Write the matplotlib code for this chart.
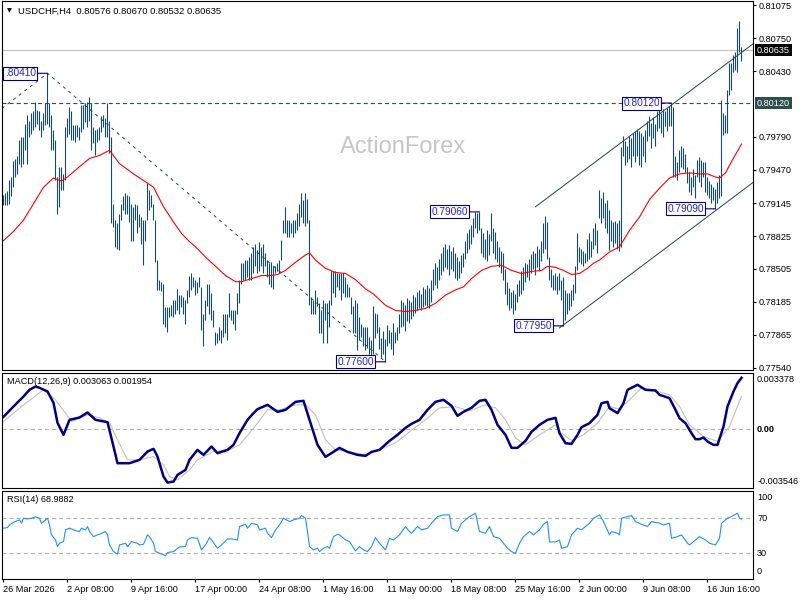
import matplotlib
matplotlib.use("Agg")
import matplotlib.pyplot as plt

plt.rcParams['font.family'] = ['Liberation Sans', 'DejaVu Sans']
plt.rcParams['lines.scale_dashes'] = False

# ---------------- data ----------------
symbol_title = "USDCHF,H4  0.80576 0.80670 0.80532 0.80635"
macd_title = "MACD(12,26,9) 0.003063 0.001954"
rsi_title = "RSI(14) 68.9882"
watermark = "ActionForex"

bar_high = [
    .7922, .7924, .7926, .7937, .7940, .7956, .7958, .7960, .7976, .7979,
    .7979, .7992, .8000, .7995, .8002, .8004, .8013, .8005, .8004, .7995,
    .8002, .8012, .8041, .8012, .8000, .7986, .7976, .7940, .7950, .7950,
    .7943, .7989, .7997, .8008, .8004, .7991, .7991, .7991, .7989, .8010,
    .8010, .8012, .8013, .8018, .8012, .7989, .7986, .7987, .7989, .7999,
    .8000, .7997, .8012, .7995, .7979, .7914, .7898, .7895, .7904, .7914,
    .7921, .7924, .7922, .7921, .7914, .7911, .7914, .7913, .7904, .7901,
    .7898, .7898, .7934, .7927, .7922, .7914, .7898, .7859, .7840, .7838,
    .7836, .7813, .7813, .7813, .7815, .7820, .7820, .7831, .7825, .7825,
    .7823, .7820, .7830, .7844,
    .7846, .7843, .7840, .7838, .7843, .7833, .7807, .7820, .7836, .7836,
    .7827, .7810, .7789, .7788, .7794, .7791, .7807, .7807, .7807, .7827,
    .7810, .7810, .7810, .7827, .7840, .7856, .7856, .7859, .7859, .7862,
    .7866, .7872, .7875, .7869, .7877, .7872, .7875, .7866, .7859, .7856,
    .7857, .7853, .7853, .7856, .7859, .7879, .7898, .7911, .7898, .7898,
    .7895, .7898, .7898, .7905, .7914, .7924, .7918, .7924, .7919, .7898,
    .7823, .7820, .7830, .7823, .7817, .7810, .7820, .7817, .7817, .7820,
    .7848, .7848, .7848, .7846, .7846, .7846, .7846, .7843, .7836, .7833,
    .7823, .7814, .7820, .7817, .7804, .7797, .7794, .7794, .7794, .7784,
    .7781, .7814,
    .7808, .7807, .7794, .7783, .7790, .7782, .7796, .7791, .7789, .7798,
    .7789, .7794, .7807, .7820, .7818, .7815, .7822, .7820, .7818, .7825,
    .7823, .7828, .7830, .7826, .7833, .7831, .7835, .7832, .7840, .7850,
    .7856, .7852, .7860, .7866, .7872, .7875, .7870, .7874, .7868, .7872,
    .7866, .7862, .7858, .7864, .7866, .7878, .7885, .7889, .7893, .7900,
    .7906, .7905, .7906, .7890, .7885, .7880, .7888, .7884, .7905, .7890,
    .7886, .7878, .7872, .7868, .7866, .7850, .7838, .7832, .7828, .7830,
    .7826, .7836, .7840, .7848, .7852, .7856, .7855, .7860, .7865, .7868,
    .7866, .7873, .7870, .7878, .7895, .7902, .7896, .7862, .7850, .7845,
    .7846, .7844, .7846, .7840, .7843,
    .7830, .7827, .7827, .7830, .7836, .7853, .7885, .7872, .7870, .7868,
    .7866, .7880, .7885, .7878, .7890, .7895, .7888, .7927, .7920, .7925,
    .7915, .7918, .7908, .7898, .7896, .7897, .7895, .7898, .7969, .7980,
    .7975, .7970, .7980, .7978, .7983, .7985, .7987, .7985, .7983, .7980,
    .7986, .7995, .7999, .7993, .7998, .7992, .8004, .8008, .8002, .8006,
    .8004, .8007, .8009, .8012, .8008, .7960, .7955, .7966, .7970, .7968,
    .7962, .7950, .7945, .7940, .7948, .7942, .7957, .7959, .7957, .7955,
    .7955, .7940, .7936, .7933, .7930, .7928, .7935, .7942, .8015, .8002,
    .8000, .8025, .8051, .8051, .8059, .8062, .8085, .8092, .8067,
]
bar_low = [
    .7913, .7913, .7913, .7914, .7921, .7930, .7940, .7943, .7953, .7950,
    .7953, .7966, .7953, .7979, .7982, .7986, .7989, .7992, .7986, .7979,
    .7986, .7991, .7992, .7989, .7966, .7966, .7937, .7904, .7911, .7927,
    .7927, .7937, .7979, .7982, .7976, .7976, .7974, .7979, .7976, .7984,
    .7987, .7994, .7989, .7995, .7966, .7973, .7961, .7974, .7976, .7984,
    .7989, .7979, .7979, .7963, .7895, .7891, .7872, .7870, .7869, .7898,
    .7908, .7904, .7904, .7896, .7878, .7878, .7898, .7885, .7891, .7875,
    .7854, .7878, .7898, .7908, .7911, .7898, .7857, .7830, .7830, .7829,
    .7797, .7794, .7789, .7804, .7805, .7804, .7807, .7810, .7807, .7813,
    .7807, .7797, .7817, .7823,
    .7830, .7833, .7825, .7827, .7833, .7791, .7775, .7801, .7814, .7807,
    .7801, .7794, .7776, .7778, .7781, .7778, .7784, .7788, .7781, .7804,
    .7801, .7797, .7791, .7807, .7817, .7836, .7840, .7840, .7843, .7840,
    .7840, .7846, .7853, .7846, .7848, .7853, .7846, .7853, .7843, .7836,
    .7833, .7831, .7846, .7848, .7846, .7859, .7885, .7885, .7882, .7882,
    .7885, .7882, .7885, .7888, .7892, .7901, .7895, .7892, .7895, .7815,
    .7807, .7807, .7807, .7814, .7788, .7788, .7778, .7801, .7778, .7794,
    .7815, .7827, .7823, .7833, .7830, .7820, .7827, .7823, .7823, .7823,
    .7807, .7788, .7788, .7771, .7781, .7784, .7775, .7771, .7773, .7768,
    .7765, .7768,
    .7783, .7788, .7772, .7764, .7768, .7760, .7775, .7778, .7772, .7767,
    .7778, .7781, .7788, .7794, .7795, .7790, .7800, .7798, .7802, .7805,
    .7808, .7810, .7812, .7810, .7813, .7815, .7814, .7812, .7818, .7830,
    .7835, .7832, .7840, .7845, .7848, .7852, .7850, .7845, .7850, .7848,
    .7842, .7840, .7842, .7846, .7852, .7860, .7866, .7870, .7875, .7882,
    .7890, .7885, .7888, .7866, .7862, .7860, .7858, .7864, .7878, .7866,
    .7860, .7857, .7852, .7846, .7840, .7826, .7815, .7810, .7812, .7807,
    .7810, .7818, .7824, .7826, .7830, .7838, .7843, .7840, .7846, .7850,
    .7845, .7852, .7848, .7858, .7866, .7870, .7860, .7840, .7833, .7830,
    .7830, .7826, .7830, .7820, .7795,
    .7801, .7807, .7810, .7814, .7820, .7827, .7849, .7857, .7855, .7853,
    .7856, .7858, .7860, .7862, .7870, .7874, .7866, .7900, .7895, .7900,
    .7890, .7885, .7869, .7878, .7872, .7876, .7870, .7868, .7872, .7960,
    .7952, .7955, .7958, .7950, .7960, .7955, .7960, .7952, .7950, .7960,
    .7955, .7975, .7980, .7968, .7978, .7970, .7985, .7988, .7983, .7979,
    .7990, .7985, .7990, .7990, .7940, .7940, .7937, .7945, .7950, .7948,
    .7945, .7934, .7925, .7922, .7930, .7920, .7940, .7935, .7930, .7940,
    .7925, .7922, .7920, .7915, .7918, .7909, .7915, .7920, .7921, .7981,
    .7983, .7983, .8020, .8025, .8042, .8044, .8042, .8062, .8053,
]
assert len(bar_high) == len(bar_low) == 370

ma_bar = [0, 5, 10, 15, 20, 25, 29, 32, 38, 43, 48, 53, 58, 65, 72, 75, 80, 85, 89, 93,
          96, 101, 106, 111, 116, 119, 124, 129, 134, 137, 141, 146, 151, 153, 156, 161,
          166, 171, 176, 181, 185, 191, 196, 201, 206, 211, 216, 221, 226, 230, 234, 239,
          244, 249, 254, 259, 264, 269, 272, 276, 280, 284, 288, 292, 295, 298, 303, 308,
          313, 318, 323, 328, 333, 338, 343, 348, 352, 356, 358, 361, 364, 369]
ma_val = [0.7878, 0.7887, 0.7898, 0.7914, 0.7930, 0.7939, 0.7936, 0.7940, 0.7950, 0.7958,
          0.7961, 0.7966, 0.7953, 0.7943, 0.7934, 0.7930, 0.7911, 0.7896, 0.7885, 0.7877,
          0.7872, 0.7862, 0.7853, 0.7844, 0.7838, 0.7838, 0.7841, 0.7844, 0.7844, 0.7845,
          0.7849, 0.7857, 0.7864, 0.7866, 0.7859, 0.7851, 0.7847, 0.7846, 0.7840, 0.7831,
          0.7826, 0.7815, 0.7810, 0.7809, 0.7810, 0.7812, 0.7817, 0.7825, 0.7830, 0.7833,
          0.7841, 0.7849, 0.7853, 0.7854, 0.7849, 0.7846, 0.7848, 0.7849, 0.7853, 0.7852,
          0.7849, 0.7845, 0.7846, 0.7851, 0.7856, 0.7859, 0.7867, 0.7872, 0.7888, 0.7901,
          0.7918, 0.7929, 0.7939, 0.7943, 0.7944, 0.7943, 0.7943, 0.7940, 0.7939, 0.7944,
          0.7955, 0.7972]

macd_bar = [0, 5, 10, 13, 16, 18, 22, 25, 27, 30, 33, 38, 42, 46, 52, 55, 57, 63, 68, 72,
            75, 77, 80, 82, 85, 87, 91, 93, 97, 100, 104, 107, 112, 115, 118, 122, 125, 127,
            132, 137, 141, 146, 150, 153, 157, 161, 165, 168, 172, 177, 181, 184, 188, 193,
            197, 201, 204, 208, 212, 216, 220, 224, 227, 230, 234, 238, 241, 244, 247, 251,
            254, 257, 261, 264, 268, 272, 276, 278, 281, 284, 287, 289, 293, 297, 299, 302,
            303, 307, 310, 312, 317, 321, 326, 328, 333, 336, 338, 341, 344, 346, 348, 350,
            352, 355, 357, 360, 362, 365, 367, 369]
macd_val = [0.00072, 0.00134, 0.00194, 0.00234, 0.00254, 0.00246, 0.00224, 0.00156, 0.00036, -0.00036,
            0.00054, 0.00068, 0.00098, 0.00054, 0.00040, -0.00106, -0.00206, -0.00206, -0.00186, -0.00136,
            -0.00120, -0.00166, -0.00286, -0.00322, -0.00316, -0.00276, -0.00246, -0.00186, -0.00126, -0.00156,
            -0.00106, -0.00146, -0.00126, -0.00096, -0.00026, 0.00054, 0.00094, 0.00118, 0.00144, 0.00102,
            0.00114, 0.00162, 0.00168, 0.00054, -0.00096, -0.00168, -0.00138, -0.00114, -0.00138, -0.00156,
            -0.00162, -0.00138, -0.00126, -0.00072, -0.00036, 0.00006, 0.00030, 0.00054, 0.00114, 0.00162,
            0.00174, 0.00138, 0.00078, 0.00102, 0.00126, 0.00168, 0.00174, 0.00114, 0.00024, -0.00036,
            -0.00114, -0.00114, -0.00072, -0.00018, 0.00024, 0.00054, 0.00066, -0.00026, -0.00086, -0.00090,
            -0.00036, 0.00010, 0.00034, 0.00084, 0.00154, 0.00162, 0.00124, 0.00094, 0.00154, 0.00234,
            0.00264, 0.00234, 0.00230, 0.00204, 0.00184, 0.00114, 0.00064, 0.00034, -0.00026, -0.00062,
            -0.00062, -0.00052, -0.00076, -0.00096, -0.00096, 0.00014, 0.00134, 0.00224, 0.00274, 0.00306]

sig_bar = [0, 10, 20, 26, 34, 42, 48, 53, 57, 62, 68, 75, 80, 83, 87, 93, 97, 105, 113, 118,
           123, 127, 132, 138, 146, 151, 156, 161, 166, 173, 181, 188, 196, 203, 211, 218, 226,
           233, 241, 246, 251, 256, 261, 268, 276, 278, 284, 290, 297, 303, 308, 313, 319, 327,
           333, 338, 343, 350, 357, 363, 369]
sig_val = [0.00044, 0.00144, 0.00234, 0.00174, 0.00045, 0.00084, 0.00066, 0.00036, -0.00066, -0.00186,
           -0.00186, -0.00166, -0.00216, -0.00286, -0.00306, -0.00246, -0.00186, -0.00136, -0.00126, -0.00096,
           -0.00026, 0.00034, 0.00114, 0.00114, 0.00144, 0.00144, 0.00084, -0.00066, -0.00126, -0.00138,
           -0.00156, -0.00126, -0.00084, -0.00018, 0.00054, 0.00126, 0.00132, 0.00108, 0.00144, 0.00126,
           0.00054, -0.00054, -0.00096, -0.00036, 0.00024, -0.00016, -0.00070, -0.00036, 0.00034, 0.00134,
           0.00118, 0.00174, 0.00244, 0.00224, 0.00204, 0.00134, 0.00024, -0.00046, -0.00076, 0.00014,
           0.00195]

rsi_bar = [0, 2, 3, 5, 8, 9, 10, 12, 14, 16, 18, 19, 21, 22, 23, 24, 26, 27, 28, 30,
           31, 33, 35, 38, 39, 41, 42, 43, 45, 47, 48, 51, 52, 53, 55, 57, 58, 61, 62, 64,
           67, 68, 70, 72, 73, 75, 76, 78, 81, 82, 85, 87, 88, 91, 92, 94, 97, 99, 101, 103,
           104, 107, 109, 112, 114, 117, 118, 121, 122, 124, 127, 128, 131, 132, 134, 136, 138, 140, 143, 145,
           148, 149, 151, 152, 153, 155, 157, 158, 160, 162, 163, 165, 167, 168, 171, 173, 176, 178, 180, 182,
           184, 186, 188, 191, 193, 195, 198, 201, 203, 204, 207, 209, 212, 214, 217, 220, 223, 224, 227, 229,
           233, 236, 238, 241, 243, 245, 248, 250, 252, 254, 256, 258, 260, 263, 265, 268, 270, 272, 273, 276,
           278, 279, 282, 284, 287, 289, 293, 295, 298, 300, 303, 304, 307, 308, 309, 312, 314, 316, 319, 322,
           324, 328, 330, 333, 334, 337, 339, 342, 343, 346, 348, 351, 353, 356, 358, 359, 362, 364, 367, 368,
           369]
rsi_val = [58.6, 59.3, 62.4, 65.4, 68.1, 64.3, 70.0, 69.2, 70.0, 71.5, 70.0, 64.3, 68.1, 70.0, 62.4, 51.0, 45.2, 37.6, 41.4, 43.3,
           56.7, 58.6, 56.7, 54.8, 58.6, 56.7, 60.5, 54.8, 49.0, 51.0, 51.7, 54.8, 51.0, 39.5, 31.9, 28.9, 39.5, 41.4, 37.6, 43.3,
           41.4, 39.5, 40.3, 51.0, 49.0, 41.4, 31.9, 30.0, 27.3, 30.8, 31.9, 35.7, 37.2, 37.6, 45.2, 47.9, 47.1, 33.8, 39.5, 47.9,
           45.2, 35.7, 39.5, 46.4, 46.4, 45.2, 60.5, 63.1, 58.6, 64.3, 62.4, 56.7, 58.6, 52.9, 47.9, 56.7, 62.4, 70.0, 66.2, 68.1,
           70.0, 73.1, 70.0, 54.8, 37.6, 33.8, 35.7, 31.9, 35.7, 37.6, 35.7, 49.0, 51.7, 51.0, 45.2, 43.3, 32.7, 37.6, 33.8, 31.9,
           37.6, 47.9, 41.4, 33.8, 47.1, 45.2, 51.0, 60.5, 54.8, 52.9, 60.5, 56.7, 58.6, 64.3, 71.9, 73.8, 73.8, 58.6, 54.8, 64.3,
           71.9, 75.7, 54.8, 52.9, 60.5, 49.0, 47.1, 41.4, 35.7, 31.9, 30.0, 41.4, 49.0, 54.8, 51.0, 56.7, 63.1, 66.2, 42.9, 42.9,
           45.2, 35.7, 37.6, 51.0, 58.6, 56.7, 64.3, 70.0, 73.8, 66.2, 51.0, 54.8, 52.9, 51.0, 70.0, 71.9, 73.1, 66.2, 63.1, 60.5,
           66.2, 64.3, 62.4, 64.3, 47.1, 49.0, 51.0, 41.4, 39.5, 45.2, 49.0, 45.2, 41.4, 39.5, 47.1, 64.3, 70.0, 71.9, 75.7, 70.0,
           69.0]

price_ticks = [0.81075, 0.80750, 0.80430, 0.79790, 0.79470, 0.79145,
               0.78825, 0.78505, 0.78185, 0.77865, 0.77540]
bid_price = 0.80635
level_price = 0.80120
macd_scale = [0.003378, 0.0, -0.003546]
rsi_levels = [70, 30]
rsi_scale = [100, 70, 30, 0]

time_labels = ["26 Mar 2026", "2 Apr 08:00", "9 Apr 16:00", "17 Apr 00:00",
               "24 Apr 08:00", "1 May 16:00", "11 May 00:00", "18 May 08:00",
               "25 May 16:00", "2 Jun 00:00", "9 Jun 08:00", "16 Jun 16:00"]
time_label_bar = [0, 32, 64, 96, 128, 160, 192, 224, 256, 288, 320, 352]

swing_bar = [22, 334, 238, 191, 280, 356]
swing_price = [0.80410, 0.80120, 0.79060, 0.77600, 0.77950, 0.79090]
swing_text = [".80410", "0.80120", "0.79060", "0.77600", "0.77950", "0.79090"]

zigzag_bar = [-0.75, 22, 191]
zigzag_price = [0.80068, 0.80410, 0.77600]
chan_up_bar = [266, 375]
chan_up_price = [0.7911, 0.8070]
chan_dn_bar = [278, 375]
chan_dn_price = [0.7793, 0.7935]

# ---------------- styles ----------------
W, H = 800, 600
bar_color = '#174a63'
navy = '#000080'
slate = '#2f4f4f'
fs = 6.6

fig = plt.figure(figsize=(W / 100, H / 100), dpi=100)
fig.patch.set_facecolor('white')


def rect(top, bottom, left=2.0, right=753.5):
    return [left / W, 1 - bottom / H, (right - left) / W, (bottom - top) / H]


ax = fig.add_axes(rect(0.5, 370))
axm = fig.add_axes(rect(372.5, 488))
axr = fig.add_axes(rect(490.5, 579))

for a in (ax, axm, axr):
    a.set_xlim(-0.75, 375.0)
    a.set_facecolor('white')
    for s in a.spines.values():
        s.set_color('black')
        s.set_linewidth(0.8)
    a.tick_params(axis='x', bottom=False, labelbottom=False)
    a.tick_params(axis='y', left=False, labelleft=False, right=False, labelright=False)

# ---------------- main price panel ----------------
ax.set_ylim(0.77520, 0.81119)
ax.yaxis.tick_right()
ax.set_yticks(price_ticks)
ax.set_yticklabels([f"{v:.5f}" for v in price_ticks])
ax.tick_params(axis='y', right=True, labelright=True, direction='out', length=2.5,
               width=0.8, pad=1.5, labelsize=fs, colors='black')

ax.text(0.5336, 0.6035, watermark, transform=ax.transAxes, fontsize=17,
        color='#c6c6c6', ha='center', va='center', zorder=0.5)

ax.axhline(bid_price, color='#c0c0c0', lw=0.8, zorder=1)
ax.axhline(level_price, color=slate, lw=0.8, ls=(0, (2.9, 2.2)), zorder=1)
ax.plot(zigzag_bar, zigzag_price, color=slate, lw=0.75, ls=(0, (2.2, 2.9)), zorder=1)
ax.plot(chan_up_bar, chan_up_price, color=slate, lw=0.75, zorder=1)
ax.plot(chan_dn_bar, chan_dn_price, color=slate, lw=0.75, zorder=1)

idx = list(range(len(bar_high)))
ax.vlines(idx, bar_low, bar_high, colors=bar_color, linewidth=0.8, zorder=2)
ax.plot(ma_bar, ma_val, color='#ff0000', lw=0.8, zorder=3)

for b, p, t in zip(swing_bar, swing_price, swing_text):
    ax.annotate(t, xy=(b, p), xytext=(-8.3, 0), textcoords='offset points',
                ha='right', va='center', fontsize=7.3, color='#2424c8',
                bbox=dict(boxstyle='square,pad=0.15', fc='white', ec=navy, lw=0.8),
                arrowprops=dict(arrowstyle='-', color=navy, lw=0.8, shrinkA=0, shrinkB=0),
                annotation_clip=False, zorder=5)

for p, bg in ((bid_price, 'black'), (level_price, slate)):
    ax.annotate(f"{p:.5f}", xy=(1, p), xycoords=('axes fraction', 'data'),
                xytext=(2.6, 0), textcoords='offset points', ha='left', va='center',
                fontsize=fs, color='white',
                bbox=dict(boxstyle='square,pad=0.18', fc=bg, ec='none'),
                annotation_clip=False, zorder=6)

# ---------------- MACD panel ----------------
axm.set_ylim(macd_scale[2], macd_scale[0])
axm.axhline(0, color='#b0b0b0', lw=0.8, ls=(0, (2.9, 2.2)))
axm.plot(sig_bar, sig_val, color='#c0c0c0', lw=0.8)
axm.plot(macd_bar, macd_val, color=navy, lw=1.8, solid_joinstyle='round')
axm.text(0.0067, 0.926, macd_title, transform=axm.transAxes, fontsize=fs,
         ha='left', va='center', color='black')
for v, off, w in zip(macd_scale, (-5.4, -0.8, 4.5), ('normal', 'bold', 'normal')):
    lab = f"{v:.6f}" if v != 0 else "0.00"
    axm.annotate(lab, xy=(1, v), xycoords=('axes fraction', 'data'),
                 xytext=(2.6, off), textcoords='offset points', ha='left', va='center',
                 fontsize=fs, fontweight=w, color='black', annotation_clip=False)

# ---------------- RSI panel ----------------
axr.set_ylim(0.57, 101.7)
for lv in rsi_levels:
    axr.axhline(lv, color='#b0b0b0', lw=0.8, ls=(0, (2.9, 2.2)))
axr.plot(rsi_bar, rsi_val, color='#1e90ff', lw=0.8)
axr.text(0.0067, 0.893, rsi_title, transform=axr.transAxes, fontsize=fs,
         ha='left', va='center', color='black')
for v, off in zip(rsi_scale, (-4.3, 0, 0, 5.4)):
    axr.annotate(str(v), xy=(1, v), xycoords=('axes fraction', 'data'),
                 xytext=(2.6, off), textcoords='offset points', ha='left', va='center',
                 fontsize=fs, color='black', annotation_clip=False)

axr.set_xticks(time_label_bar)
axr.set_xticklabels(time_labels, ha='left')
axr.tick_params(axis='x', bottom=True, labelbottom=True, direction='out', length=2.2,
                width=0.8, pad=2.2, labelsize=fs, colors='black')

# ---------------- header ----------------
fig.text(6.5 / W, 1 - 11 / H, "\u25bc", fontsize=4.6, family='DejaVu Sans',
         ha='left', va='center', color='black')
fig.text(18 / W, 1 - 11 / H, symbol_title, fontsize=6.8, ha='left', va='center',
         color='black')

fig.savefig("out.png", dpi=100, facecolor='white')
